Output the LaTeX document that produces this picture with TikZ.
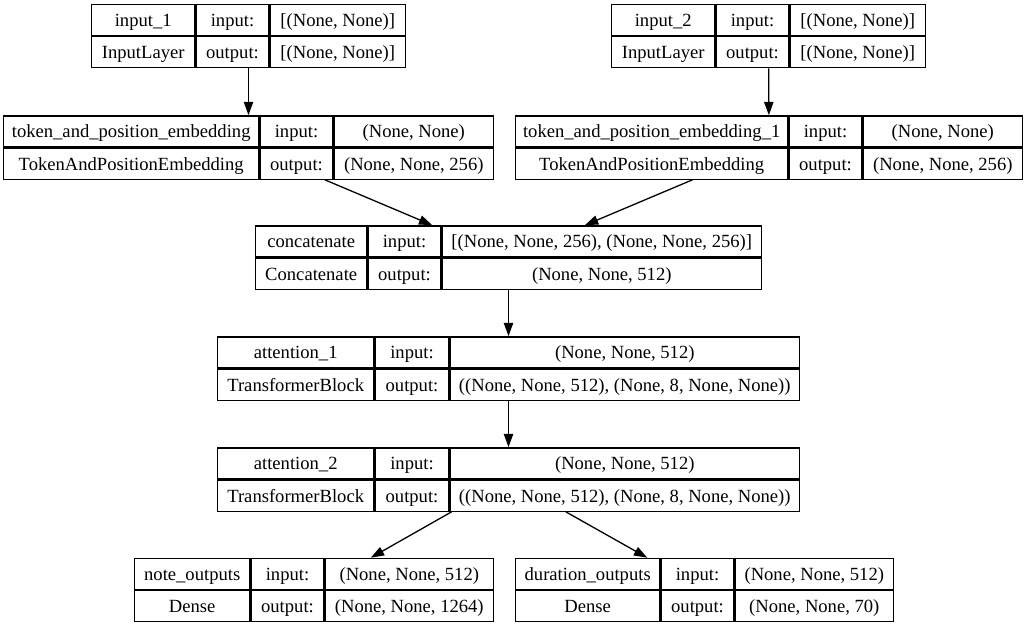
\documentclass[tikz,border=0pt]{standalone}
\usepackage{fontspec}
\setmainfont{Liberation Serif}
\usetikzlibrary{matrix,arrows.meta}

\begin{document}
\begin{tikzpicture}[
       x=1pt, y=-1pt,
       line width=1.3pt,
       every node/.style={font=\fontsize{18.6}{22}\selectfont},
       layer/.style n args={3}{
         matrix of nodes,
         inner sep=0pt,
         outer sep=0pt,
         column sep=0pt,
         row sep=0pt,
         nodes={draw, line width=1.3pt, outer sep=0pt, inner sep=0pt,
                anchor=center, minimum height=31pt,
                text height=14pt, text depth=1pt},
         column 1/.style={nodes={minimum width=#1pt}},
         column 2/.style={nodes={minimum width=#2pt}},
         column 3/.style={nodes={minimum width=#3pt}}
       },
       link/.style={-{Triangle[length=13.3pt,width=9.3pt]}, line width=1.3pt}
     ]
\useasboundingbox (0,0) rectangle (1026,627);

\matrix (in1) [layer={103}{73}{135}] at (248.5,36) {
  input\_1 & input: & {[(None, None)]} \\
  InputLayer & output: & {[(None, None)]} \\
};
\matrix (in2) [layer={103}{73}{135}] at (768.5,36) {
  input\_2 & input: & {[(None, None)]} \\
  InputLayer & output: & {[(None, None)]} \\
};
\matrix (tpe) [layer={255}{73}{159}] at (248.5,147.5) {
  token\_and\_position\_embedding & input: & (None, None) \\
  TokenAndPositionEmbedding & output: & (None, None, 256) \\
};
\matrix (tpe1) [layer={272}{73}{159}] at (769,147.5) {
  token\_and\_position\_embedding\_1 & input: & (None, None) \\
  TokenAndPositionEmbedding & output: & (None, None, 256) \\
};
\matrix (concat) [layer={111}{73}{319}] at (508.5,257.5) {
  concatenate & input: & {[(None, None, 256), (None, None, 256)]} \\
  Concatenate & output: & (None, None, 512) \\
};
\matrix (att1) [layer={156}{74}{349}] at (508.5,368.5) {
  attention\_1 & input: & (None, None, 512) \\
  TransformerBlock & output: & ((None, None, 512), (None, 8, None, None)) \\
};
\matrix (att2) [layer={156}{74}{349}] at (508.5,479.5) {
  attention\_2 & input: & (None, None, 512) \\
  TransformerBlock & output: & ((None, None, 512), (None, 8, None, None)) \\
};
\matrix (note) [layer={115}{73}{168}] at (314,590) {
  note\_outputs & input: & (None, None, 512) \\
  Dense & output: & (None, None, 1264) \\
};
\matrix (dur) [layer={144}{73}{158}] at (704.5,590) {
  duration\_outputs & input: & (None, None, 512) \\
  Dense & output: & (None, None, 70) \\
};

\draw[link] (in1)--(tpe);
\draw[link] (in2)--(tpe1);
\draw[link] (tpe)--(concat);
\draw[link] (tpe1)--(concat);
\draw[link] (concat)--(att1);
\draw[link] (att1)--(att2);
\draw[link] (att2)--(note);
\draw[link] (att2)--(dur);

\end{tikzpicture}
\end{document}
